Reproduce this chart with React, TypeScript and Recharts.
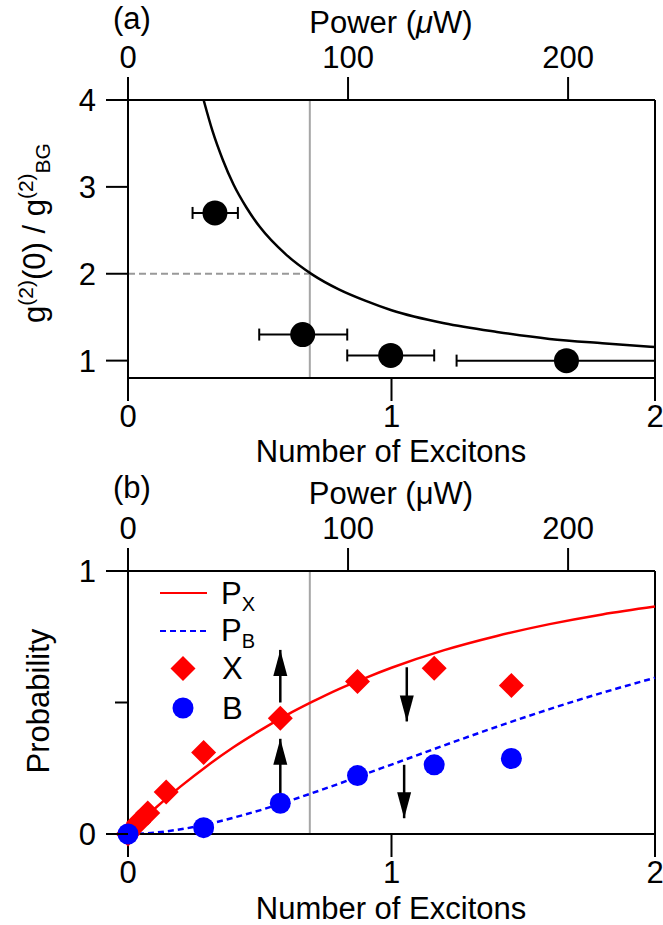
import React from 'react';
import {
  ComposedChart,
  Line,
  Scatter,
  XAxis,
  YAxis,
  ReferenceLine,
  ErrorBar,
  Legend,
} from 'recharts';

const FONT = '"Liberation Sans", Arial, Helvetica, sans-serif';
const FS = 31;

// axes
const excitonTicks = [0, 1, 2];
const powerTicks = [0, 100, 200];
const powerAtTwoExcitons = 239.5;
const g2Ticks = [1, 2, 3, 4];
const probTicks = [0, 0.5, 1];
const thresholdExcitons = 0.69;

// (a) measured g2 ratio with horizontal error bars
const g2PointX = [0.33, 0.663, 0.997, 1.664];
const g2PointY = [2.7, 1.3, 1.06, 1.0];
const g2ErrLow = [0.245, 0.498, 0.832, 1.247];
const g2ErrHigh = [0.417, 0.832, 1.162, 2.0];

// (a) model curve
const g2FitX = [0.287, 0.32, 0.36, 0.4, 0.45, 0.5, 0.6, 0.7, 0.8, 0.9, 1.0, 1.2, 1.4, 1.6, 1.8, 2.0];
const g2FitY = [4.0, 3.65, 3.31, 3.03, 2.76, 2.54, 2.22, 1.99, 1.82, 1.69, 1.58, 1.43, 1.33, 1.25, 1.2, 1.157];

// (b) model curves
const modelX = [0, 0.1, 0.2, 0.3, 0.4, 0.5, 0.6, 0.7, 0.8, 0.9, 1.0, 1.2, 1.4, 1.6, 1.8, 2.0];
const pxModel = [0, 0.095, 0.181, 0.259, 0.33, 0.393, 0.451, 0.503, 0.551, 0.593, 0.632, 0.699, 0.753, 0.798, 0.835, 0.865];
const pbModel = [0, 0.005, 0.018, 0.037, 0.062, 0.09, 0.122, 0.156, 0.191, 0.228, 0.264, 0.337, 0.408, 0.475, 0.537, 0.594];

// (b) measured probabilities
const xPointX = [0, 0.04, 0.075, 0.145, 0.287, 0.578, 0.871, 1.162, 1.455];
const xPointY = [0, 0.045, 0.08, 0.16, 0.31, 0.44, 0.58, 0.63, 0.565];
const bPointX = [0, 0.287, 0.578, 0.871, 1.162, 1.455];
const bPointY = [0, 0.024, 0.117, 0.222, 0.263, 0.287];

// (b) arrows
const arrowX = [0.578, 0.578, 1.058, 1.048];
const arrowFrom = [0.5, 0.155, 0.634, 0.263];
const arrowTo = [0.7, 0.362, 0.428, 0.06];

const g2Points = g2PointX.map((x, i) => ({
  x,
  y: g2PointY[i],
  err: [x - g2ErrLow[i], g2ErrHigh[i] - x],
}));
const g2Fit = g2FitX.map((x, i) => ({ x, y: g2FitY[i] }));
const modelData = modelX.map((x, i) => ({ x, px: pxModel[i], pb: pbModel[i] }));
const xPoints = xPointX.map((x, i) => ({ x, y: xPointY[i] }));
const bPoints = bPointX.map((x, i) => ({ x, y: bPointY[i] }));
const arrowHeads = arrowX.map((x, i) => ({
  x,
  y: arrowTo[i],
  dir: arrowTo[i] > arrowFrom[i] ? 1 : -1,
}));
// invisible carrier so the power axis gets a scale
const powerSpan = [{ x: 0 }, { x: powerAtTwoExcitons }];

const txt = { fontFamily: FONT, fontSize: FS, fill: '#000' };
const axisLine = { stroke: '#000', strokeWidth: 2 };

const BottomTick = (p: any) => (
  <text x={p.x} y={p.y} dy="0.72em" textAnchor="middle" {...txt}>
    {p.payload.value}
  </text>
);

const TopTick = (p: any) => (
  <text x={p.x} y={p.y} textAnchor="middle" {...txt}>
    {p.payload.value}
  </text>
);

const LeftTick = (p: any) => (
  <text x={p.x} y={p.y} dy="0.36em" textAnchor="end" {...txt}>
    {p.payload.value}
  </text>
);

// left ticks for (b): major 0 and 1, short unlabeled tick at 0.5
const ProbTick = (p: any) => {
  const axisX = p.x + 32;
  const v = p.payload.value;
  const major = v === 0 || v === 1;
  return (
    <g>
      <line x1={axisX - (major ? 22 : 13)} x2={axisX} y1={p.y} y2={p.y} stroke="#000" strokeWidth={2} />
      {major && (
        <text x={p.x} y={p.y} dy="0.36em" textAnchor="end" {...txt}>
          {v}
        </text>
      )}
    </g>
  );
};

const dot = (r: number, fill: string) => (p: any) => <circle cx={p.cx} cy={p.cy} r={r} fill={fill} />;

const diamond = (p: any) => {
  const h = 12.5;
  return (
    <polygon
      points={`${p.cx},${p.cy - h} ${p.cx + h},${p.cy} ${p.cx},${p.cy + h} ${p.cx - h},${p.cy}`}
      fill="#ff0000"
    />
  );
};

const arrowHead = (p: any) => {
  const base = p.cy + p.payload.dir * 26;
  return <polygon points={`${p.cx},${p.cy} ${p.cx - 7},${base} ${p.cx + 7},${base}`} fill="#000" />;
};

const PowerTitle = ({ y, italic, tag, tagY }: any) => (
  <g>
    <text x={391} y={y} textAnchor="middle" {...txt}>
      Power (<tspan fontStyle={italic ? 'italic' : 'normal'}>μ</tspan>W)
    </text>
    <text x={132} y={tagY} textAnchor="middle" {...txt}>
      {tag}
    </text>
  </g>
);

const PLegend = () => (
  <svg width={130} height={150} style={{ overflow: 'visible' }}>
    <line x1={10} x2={57} y1={13} y2={13} stroke="#ff0000" strokeWidth={2} />
    <text x={71} y={24} {...txt}>
      P<tspan fontSize={20} dy={7}>X</tspan>
    </text>
    <line x1={10} x2={57} y1={51} y2={51} stroke="#0000ff" strokeWidth={2} strokeDasharray="6 4" />
    <text x={71} y={61} {...txt}>
      P<tspan fontSize={20} dy={7}>B</tspan>
    </text>
    <polygon points="33,76 45.5,88.5 33,101 20.5,88.5" fill="#ff0000" />
    <text x={72} y={99} {...txt}>X</text>
    <circle cx={33} cy={128} r={10.5} fill="#0000ff" />
    <text x={72} y={139} {...txt}>B</text>
  </svg>
);

const PowerAxis = ({ height, margin, title }: any) => (
  <XAxis
    xAxisId="p"
    dataKey="x"
    orientation="top"
    type="number"
    domain={[0, powerAtTwoExcitons]}
    ticks={powerTicks}
    interval={0}
    height={height}
    tickSize={23}
    tickMargin={margin}
    axisLine={axisLine}
    tickLine={axisLine}
    tick={<TopTick />}
    label={{ content: () => title }}
  />
);

export default function App() {
  return (
    <div style={{ position: 'absolute', left: 0, top: 0, width: 663, height: 925, background: '#fff' }}>
      <div style={{ position: 'absolute', left: 0, top: 0 }}>
        <ComposedChart width={663} height={470} margin={{ top: 0, right: 8, bottom: 0, left: 0 }}>
          <XAxis
            xAxisId="n"
            dataKey="x"
            type="number"
            domain={[0, 2]}
            ticks={excitonTicks}
            interval={0}
            height={92}
            tickSize={23}
            tickMargin={4}
            axisLine={axisLine}
            tickLine={axisLine}
            tick={<BottomTick />}
            label={{ content: () => <text x={391} y={462} textAnchor="middle" {...txt}>Number of Excitons</text> }}
          />
          {PowerAxis({ height: 100, margin: 9, title: <PowerTitle y={33} italic tag="(a)" tagY={29} /> })}
          <YAxis
            dataKey="y"
            type="number"
            domain={[0.8, 4]}
            ticks={g2Ticks}
            interval={0}
            width={128}
            tickSize={22}
            tickMargin={10}
            axisLine={axisLine}
            tickLine={axisLine}
            tick={<LeftTick />}
            label={{
              content: () => (
                <text transform="translate(45,233) rotate(-90)" textAnchor="middle" {...txt}>
                  g<tspan fontSize={21} dy={-12}>(2)</tspan>
                  <tspan dy={12}>(0) / g</tspan>
                  <tspan fontSize={21} dy={-12}>(2)</tspan>
                  <tspan fontSize={21} dy={17}>BG</tspan>
                </text>
              ),
            }}
          />
          <Line xAxisId="p" data={powerSpan.map((d) => ({ ...d, y: 1 }))} dataKey="y" stroke="none" dot={false} isAnimationActive={false} />
          <ReferenceLine xAxisId="n" x={2} stroke="#000" strokeWidth={2} />
          <ReferenceLine xAxisId="n" x={thresholdExcitons} stroke="#a6a6a6" strokeWidth={2} />
          <ReferenceLine
            xAxisId="n"
            segment={[{ x: 0, y: 2 }, { x: thresholdExcitons, y: 2 }]}
            stroke="#999"
            strokeWidth={2}
            strokeDasharray="7 4"
          />
          <Line
            xAxisId="n"
            data={g2Fit}
            dataKey="y"
            type="monotone"
            dot={false}
            stroke="#000"
            strokeWidth={2.5}
            isAnimationActive={false}
          />
          <Scatter xAxisId="n" data={g2Points} dataKey="y" shape={dot(12.5, '#000')} isAnimationActive={false}>
            <ErrorBar dataKey="err" direction="x" width={6} stroke="#000" strokeWidth={2} />
          </Scatter>
        </ComposedChart>
      </div>

      <div style={{ position: 'absolute', left: 0, top: 470 }}>
        <ComposedChart width={663} height={455} margin={{ top: 0, right: 8, bottom: 0, left: 0 }}>
          <XAxis
            xAxisId="n"
            dataKey="x"
            type="number"
            domain={[0, 2]}
            ticks={excitonTicks}
            interval={0}
            height={91}
            tickSize={23}
            tickMargin={4}
            axisLine={axisLine}
            tickLine={axisLine}
            tick={<BottomTick />}
            label={{ content: () => <text x={391} y={449} textAnchor="middle" {...txt}>Number of Excitons</text> }}
          />
          {PowerAxis({ height: 101, margin: 9, title: <PowerTitle y={34} italic={false} tag="(b)" tagY={28} /> })}
          <YAxis
            dataKey="y"
            type="number"
            domain={[0, 1]}
            ticks={probTicks}
            interval={0}
            width={128}
            tickSize={22}
            tickMargin={10}
            axisLine={axisLine}
            tickLine={false}
            tick={<ProbTick />}
            label={{
              content: () => (
                <text transform="translate(49,231) rotate(-90)" textAnchor="middle" {...txt}>
                  Probability
                </text>
              ),
            }}
          />
          <Line xAxisId="p" data={powerSpan.map((d) => ({ ...d, px: 0 }))} dataKey="px" stroke="none" dot={false} isAnimationActive={false} />
          <ReferenceLine xAxisId="n" x={2} stroke="#000" strokeWidth={2} />
          <ReferenceLine xAxisId="n" x={thresholdExcitons} stroke="#a6a6a6" strokeWidth={2} />
          <Line
            xAxisId="n"
            data={modelData}
            dataKey="px"
            type="monotone"
            dot={false}
            stroke="#ff0000"
            strokeWidth={2.5}
            isAnimationActive={false}
          />
          <Line
            xAxisId="n"
            data={modelData}
            dataKey="pb"
            type="monotone"
            dot={false}
            stroke="#0000ff"
            strokeWidth={2.5}
            strokeDasharray="6 4"
            isAnimationActive={false}
          />
          {arrowX.map((x, i) => (
            <ReferenceLine
              key={`arrow-${i}`}
              xAxisId="n"
              segment={[{ x, y: arrowFrom[i] }, { x, y: arrowTo[i] }]}
              stroke="#000"
              strokeWidth={2.5}
            />
          ))}
          <Scatter xAxisId="n" data={arrowHeads} dataKey="y" shape={arrowHead} isAnimationActive={false} />
          <Scatter xAxisId="n" data={xPoints} dataKey="y" shape={diamond} isAnimationActive={false} />
          <Scatter xAxisId="n" data={bPoints} dataKey="y" shape={dot(10.5, '#0000ff')} isAnimationActive={false} />
          <Legend
            layout="vertical"
            align="center"
            verticalAlign="middle"
            content={() => <PLegend />}
            wrapperStyle={{ left: 150, top: 110, width: 130, height: 150 }}
          />
        </ComposedChart>
      </div>
    </div>
  );
}
